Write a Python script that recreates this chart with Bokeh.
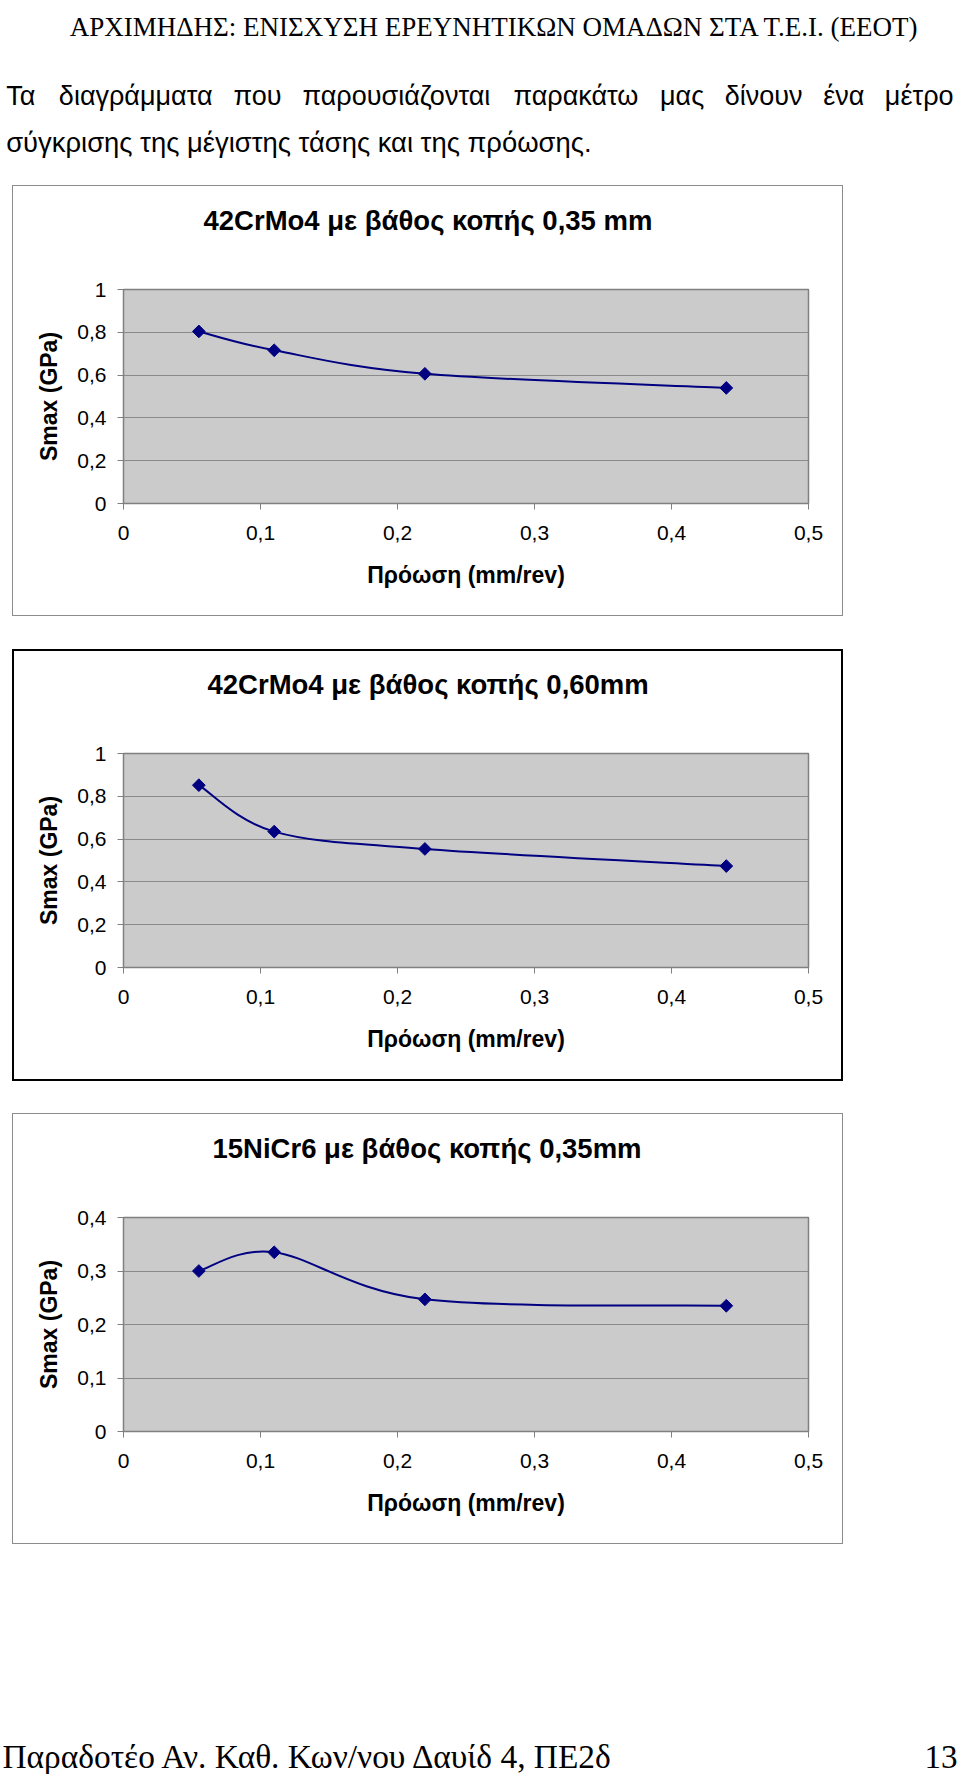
import glob
import struct
import numpy as np
from bokeh.plotting import figure
from bokeh.models import FixedTicker, Spacer, Range1d, Title
from bokeh.layouts import column, row
from bokeh.embed import file_html
from bokeh.resources import INLINE
from bokeh.core.properties import value

# ---------------- data ----------------
feed = [0.055, 0.11, 0.22, 0.44]
smax_42crmo4_035 = [0.804, 0.716, 0.606, 0.540]
smax_42crmo4_060 = [0.852, 0.635, 0.554, 0.474]
smax_15nicr6_035 = [0.300, 0.335, 0.247, 0.235]

chart_titles = ["42CrMo4 με βάθος κοπής 0,35 mm",
                "42CrMo4 με βάθος κοπής 0,60mm",
                "15NiCr6 με βάθος κοπής 0,35mm"]
x_title = "Πρόωση (mm/rev)"
y_title = "Smax (GPa)"
x_ticks = [0, 0.1, 0.2, 0.3, 0.4, 0.5]
x_tick_labels = ["0", "0,1", "0,2", "0,3", "0,4", "0,5"]
y_ticks_1 = [0, 0.2, 0.4, 0.6, 0.8, 1]
y_tick_labels_1 = ["0", "0,2", "0,4", "0,6", "0,8", "1"]
y_ticks_2 = [0, 0.1, 0.2, 0.3, 0.4]
y_tick_labels_2 = ["0", "0,1", "0,2", "0,3", "0,4"]

header_text = "ΑΡΧΙΜΗΔΗΣ: ΕΝΙΣΧΥΣΗ ΕΡΕΥΝΗΤΙΚΩΝ ΟΜΑΔΩΝ ΣΤΑ Τ.Ε.Ι. (ΕΕΟΤ)"
para_line1 = ["Τα", "διαγράμματα", "που", "παρουσιάζονται", "παρακάτω",
              "μας", "δίνουν", "ένα", "μέτρο"]
para_line2 = "σύγκρισης της μέγιστης τάσης και της πρόωσης."
footer_left = "Παραδοτέο Αν. Καθ. Κων/νου Δαυίδ 4, ΠΕ2δ"
footer_right = "13"

NAVY = "#000080"
SANS = "Liberation Sans"
SERIF = "Liberation Serif"
PARA_SIZE = 27.0


# ---------- text measuring (for justifying the first paragraph line) ----------
def font_measurer(pattern):
    paths = glob.glob("/usr/share/fonts/**/" + pattern, recursive=True)
    if not paths:
        return None
    data = open(paths[0], "rb").read()
    num = struct.unpack(">H", data[4:6])[0]
    tables = {}
    for i in range(num):
        tag, _cs, off, ln = struct.unpack(">4sIII", data[12 + 16 * i:28 + 16 * i])
        tables[tag.decode("latin1")] = off
    upem = struct.unpack(">H", data[tables["head"] + 18:tables["head"] + 20])[0]
    nhm = struct.unpack(">H", data[tables["hhea"] + 34:tables["hhea"] + 36])[0]
    hm = tables["hmtx"]
    adv = [struct.unpack(">H", data[hm + 4 * i:hm + 4 * i + 2])[0] for i in range(nhm)]
    co = tables["cmap"]
    nsub = struct.unpack(">H", data[co + 2:co + 4])[0]
    sub = None
    for i in range(nsub):
        pid, eid, o = struct.unpack(">HHI", data[co + 4 + 8 * i:co + 12 + 8 * i])
        fmt = struct.unpack(">H", data[co + o:co + o + 2])[0]
        if fmt == 4 and pid in (0, 3):
            sub = co + o
            break
    if sub is None:
        return None
    segx2 = struct.unpack(">H", data[sub + 6:sub + 8])[0]
    seg = segx2 // 2
    ends = struct.unpack(">%dH" % seg, data[sub + 14:sub + 14 + segx2])
    starts = struct.unpack(">%dH" % seg, data[sub + 16 + segx2:sub + 16 + 2 * segx2])
    deltas = struct.unpack(">%dh" % seg, data[sub + 16 + 2 * segx2:sub + 16 + 3 * segx2])
    ro = sub + 16 + 3 * segx2
    ros = struct.unpack(">%dH" % seg, data[ro:ro + segx2])

    def gid(c):
        for k in range(seg):
            if ends[k] >= c:
                if starts[k] > c:
                    return 0
                if ros[k] == 0:
                    return (c + deltas[k]) & 0xFFFF
                addr = ro + 2 * k + ros[k] + 2 * (c - starts[k])
                g = struct.unpack(">H", data[addr:addr + 2])[0]
                return (g + deltas[k]) & 0xFFFF if g else 0
        return 0

    def width(text, size):
        return sum(adv[min(gid(ord(ch)), nhm - 1)] for ch in text) * size / upem
    return width


def justified_positions(words, left, right, size):
    fallback = [5.7, 70.3, 239.4, 302.7, 509.2, 652.1, 715.5, 819.9, 883.3]
    try:
        measure = font_measurer("LiberationSans-Regular.ttf")
        if measure is None:
            return fallback
        widths = [measure(w, size) for w in words]
        gap = (right - left - sum(widths)) / (len(words) - 1)
        xs, x = [], left
        for w in widths:
            xs.append(x)
            x += w + gap
        return xs
    except Exception:
        return fallback


def smooth_segments(xs, ys):
    """Bezier control points of a smoothed line (Catmull-Rom style, as Excel draws)."""
    X = np.asarray(xs, float)
    Y = np.asarray(ys, float)
    n = len(X)
    out = {k: [] for k in ("x0", "y0", "x1", "y1", "cx0", "cy0", "cx1", "cy1")}
    for i in range(n - 1):
        a = max(i - 1, 0)
        b = min(i + 2, n - 1)
        out["x0"].append(X[i]); out["y0"].append(Y[i])
        out["x1"].append(X[i + 1]); out["y1"].append(Y[i + 1])
        out["cx0"].append(X[i] + (X[i + 1] - X[a]) / 6)
        out["cy0"].append(Y[i] + (Y[i + 1] - Y[a]) / 6)
        out["cx1"].append(X[i + 1] - (X[b] - X[i]) / 6)
        out["cy1"].append(Y[i + 1] - (Y[b] - Y[i]) / 6)
    return out


def make_chart(title, title_offset, ys, yt, ytl, border_css, w, h,
               mb_left, mb_right, mb_top, mb_bottom):
    p = figure(width=w, height=h, x_range=Range1d(0, 0.5), y_range=Range1d(yt[0], yt[-1]),
               output_backend="svg", toolbar_location=None,
               min_border_left=mb_left, min_border_right=mb_right,
               min_border_top=mb_top, min_border_bottom=mb_bottom,
               background_fill_color="#cbcbcb", border_fill_color="white",
               styles={"border": border_css})
    p.outline_line_color = "#808080"
    p.outline_line_width = 1.5
    p.xgrid.visible = False
    p.ygrid.grid_line_color = "#8a8a8a"
    p.ygrid.grid_line_width = 1

    p.xaxis.ticker = FixedTicker(ticks=x_ticks)
    p.xaxis.major_label_overrides = dict(zip(x_ticks, x_tick_labels))
    p.yaxis.ticker = FixedTicker(ticks=yt)
    p.yaxis.major_label_overrides = dict(zip(yt, ytl))

    for ax in (p.xaxis, p.yaxis):
        ax.axis_line_color = "#808080"
        ax.major_tick_line_color = "#808080"
        ax.minor_tick_line_color = None
        ax.major_tick_in = 0
        ax.major_tick_out = 6
        ax.major_label_text_font = SANS
        ax.major_label_text_font_size = "21px"
        ax.major_label_text_color = "black"
        ax.axis_label_text_font = SANS
        ax.axis_label_text_font_size = "23px"
        ax.axis_label_text_font_style = "bold"
        ax.axis_label_text_color = "black"
    p.xaxis.major_label_standoff = 16
    p.yaxis.major_label_standoff = 11
    p.xaxis.axis_label = x_title
    p.yaxis.axis_label = y_title
    p.xaxis.axis_label_standoff = 19
    p.yaxis.axis_label_standoff = 12

    seg = smooth_segments(feed, ys)
    p.bezier(x0=seg["x0"], y0=seg["y0"], x1=seg["x1"], y1=seg["y1"],
             cx0=seg["cx0"], cy0=seg["cy0"], cx1=seg["cx1"], cy1=seg["cy1"],
             line_color=NAVY, line_width=2)
    p.scatter(feed, ys, marker="square", angle=np.pi / 4, size=9,
              fill_color=NAVY, line_color=NAVY)

    # empty spacer panel next to the frame, then the chart title above it
    p.add_layout(Title(text=" ", standoff=41, text_font=SANS, text_font_size="10px"), "above")
    p.add_layout(Title(text=title, align="left", offset=title_offset, standoff=0,
                       text_font=SANS, text_font_size="27.5px", text_font_style="bold",
                       text_color="black"), "above")
    return p


# ---------------- header ----------------
head = figure(width=960, height=185, x_range=Range1d(0, 960), y_range=Range1d(185, 0),
              output_backend="svg", toolbar_location=None,
              x_axis_location=None, y_axis_location=None,
              min_border=0, outline_line_color=None)
head.grid.visible = False
head.text(x=[494], y=[26.5], text=[header_text], text_font=value(SERIF),
          text_font_size="27px", text_align="center", text_baseline="alphabetic",
          text_color="black")
word_x = justified_positions(para_line1, 5.7, 953, PARA_SIZE)
head.text(x=word_x[:-1], y=[95] * (len(word_x) - 1), text=para_line1[:-1],
          text_font=value(SANS), text_font_size="%gpx" % PARA_SIZE,
          text_align="left", text_baseline="alphabetic", text_color="black")
head.text(x=[953], y=[95], text=para_line1[-1:], text_font=value(SANS),
          text_font_size="%gpx" % PARA_SIZE, text_align="right",
          text_baseline="alphabetic", text_color="black")
head.text(x=[5.7], y=[141.5], text=[para_line2], text_font=value(SANS),
          text_font_size="27.4px", text_align="left", text_baseline="alphabetic",
          text_color="black")

# ---------------- charts ----------------
c1 = make_chart(chart_titles[0], 80, smax_42crmo4_035, y_ticks_1, y_tick_labels_1,
                "1px solid #8c8c8c", 831, 431, 110, 36, 103, 114)
c2 = make_chart(chart_titles[1], 84, smax_42crmo4_060, y_ticks_1, y_tick_labels_1,
                "2px solid #000000", 831, 432, 109, 37, 102, 116)
c3 = make_chart(chart_titles[2], 89, smax_15nicr6_035, y_ticks_2, y_tick_labels_2,
                "1px solid #8c8c8c", 831, 431, 110, 36, 103, 114)

# ---------------- footer ----------------
foot = figure(width=960, height=230, x_range=Range1d(0, 960), y_range=Range1d(1774, 1544),
              output_backend="svg", toolbar_location=None,
              x_axis_location=None, y_axis_location=None,
              min_border=0, outline_line_color=None)
foot.grid.visible = False
foot.text(x=[2], y=[1756], text=[footer_left], text_font=value(SERIF),
          text_font_size="33.4px", text_align="left", text_baseline="alphabetic",
          text_color="black")
foot.text(x=[957], y=[1756], text=[footer_right], text_font=value(SERIF),
          text_font_size="33px", text_align="right", text_baseline="alphabetic",
          text_color="black")

layout = column(head,
                row(Spacer(width=12), c1),
                Spacer(height=33),
                row(Spacer(width=12), c2),
                Spacer(height=32),
                row(Spacer(width=12), c3),
                foot)

open("out.html", "w").write(file_html(layout, INLINE))
